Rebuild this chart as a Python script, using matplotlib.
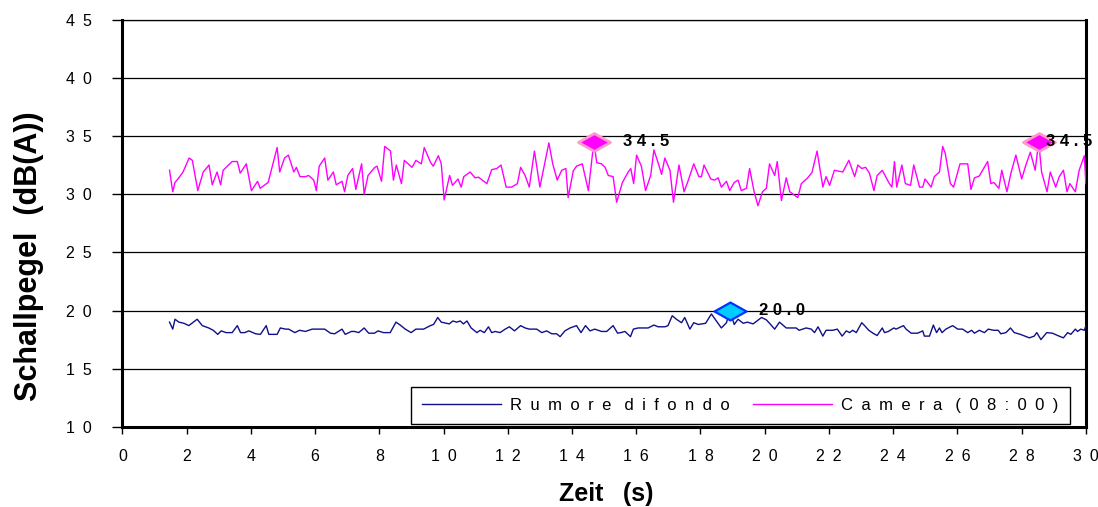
import matplotlib
matplotlib.use("Agg")
import matplotlib.pyplot as plt
from matplotlib.path import Path

# ---------------- data ----------------
camera_t = [
    1.47, 1.57, 1.64, 1.76, 1.89, 2.08, 2.18, 2.35, 2.52, 2.70,
    2.80, 2.95, 3.06, 3.14, 3.42, 3.58, 3.67, 3.86, 4.02, 4.21,
    4.29, 4.54, 4.82, 4.90, 5.05, 5.17, 5.34, 5.42, 5.53, 5.70,
    5.80, 5.96, 6.04, 6.13, 6.30, 6.40, 6.57, 6.66, 6.84, 6.92,
    7.02, 7.17, 7.27, 7.45, 7.53, 7.65, 7.86, 7.93, 8.07, 8.17,
    8.35, 8.44, 8.53, 8.69, 8.78, 9.02, 9.14, 9.31, 9.40, 9.60,
    9.68, 9.84, 9.93, 10.02, 10.19, 10.28, 10.45, 10.55, 10.63, 10.83,
    10.98, 11.09, 11.21, 11.35, 11.50, 11.66, 11.79, 11.95, 12.12, 12.30,
    12.40, 12.54, 12.67, 12.83, 13.00, 13.28, 13.40, 13.54, 13.68, 13.81,
    13.88, 14.04, 14.14, 14.32, 14.51, 14.68, 14.77, 14.92, 15.03, 15.13,
    15.28, 15.39, 15.57, 15.75, 15.83, 15.92, 16.01, 16.16, 16.29, 16.45,
    16.55, 16.68, 16.79, 16.89, 17.05, 17.16, 17.33, 17.49, 17.61, 17.79,
    17.95, 18.03, 18.11, 18.32, 18.44, 18.55, 18.65, 18.81, 18.91, 19.05,
    19.17, 19.27, 19.43, 19.53, 19.67, 19.79, 19.93, 20.05, 20.15, 20.31,
    20.39, 20.52,
    20.67, 20.78, 20.88, 21.03, 21.14, 21.34, 21.47, 21.63, 21.81, 21.91,
    22.02, 22.17, 22.43, 22.62, 22.80, 22.90, 23.02, 23.14, 23.26, 23.40,
    23.50, 23.66, 23.86, 23.96, 24.04, 24.11, 24.27, 24.38, 24.54, 24.64,
    24.82, 24.92, 24.99, 25.18, 25.28, 25.44, 25.54, 25.62, 25.78, 25.88,
    26.08, 26.32, 26.42, 26.53, 26.68, 26.94, 27.04, 27.13, 27.29, 27.38,
    27.54, 27.67, 27.82, 28.00, 28.13, 28.27, 28.42, 28.53, 28.62, 28.79,
    28.89, 29.06, 29.17, 29.30, 29.41, 29.50, 29.67, 29.79, 29.95, 30.00,
]
camera_db = [
    32.05, 30.2, 31.0, 31.4, 31.9, 33.1, 32.9, 30.3, 31.9, 32.5,
    30.8, 31.9, 30.8, 32.05, 32.8, 32.8, 31.8, 32.6, 30.3, 31.1,
    30.5, 31.0, 34.0, 31.9, 33.1, 33.35, 31.9, 32.3, 31.5, 31.5,
    31.6, 31.2, 30.3, 32.4, 33.1, 31.2, 31.9, 30.8, 31.1, 30.2,
    31.6, 32.2, 30.4, 32.6, 30.0, 31.6, 32.3, 32.4, 31.1, 34.1,
    33.7, 31.2, 32.5, 30.9, 32.9, 32.3, 32.9, 32.6, 34.0, 32.7,
    32.4, 33.3, 32.6, 29.5, 31.6, 30.75, 31.3, 30.6, 31.5, 31.9,
    31.4, 31.45, 31.2, 30.9, 32.1, 32.2, 32.5, 30.6, 30.6, 30.9,
    32.3, 31.6, 30.6, 33.7, 30.6, 34.4, 32.6, 31.2, 32.05, 32.2,
    29.7, 32.0, 32.4, 32.6, 30.3, 34.5, 32.7, 32.6, 32.3, 31.6,
    31.5, 29.3, 31.0, 31.9, 32.2, 30.9, 33.35, 32.4, 30.3, 31.6,
    33.8, 32.7, 31.7, 33.1, 32.05, 29.3, 32.5, 30.2, 31.1, 32.6,
    31.5, 31.5, 32.5, 31.3, 31.2, 31.4, 30.6, 31.1, 30.3, 31.0,
    31.2, 30.3, 30.5, 32.2, 30.2, 29.0, 30.2, 30.5, 32.6, 31.6,
    32.8, 29.45,
    31.4, 30.2, 30.0, 29.7, 30.9, 31.4, 31.85, 33.7, 30.6, 31.5,
    30.75, 32.05, 31.9, 32.9, 31.5, 32.5, 32.2, 32.3, 31.8, 30.3,
    31.6, 32.05, 31.0, 30.6, 32.8, 30.6, 32.5, 30.9, 30.75, 32.5,
    30.6, 30.6, 31.3, 30.6, 31.5, 31.9, 34.1, 33.5, 30.9, 30.6,
    32.6, 32.6, 30.4, 31.4, 31.55, 32.8, 30.9, 31.0, 30.5, 32.05,
    30.2, 31.85, 33.35, 31.3, 32.5, 33.6, 32.05, 34.5, 31.9, 30.2,
    31.9, 30.6, 31.5, 32.05, 30.2, 30.9, 30.2, 32.05, 33.3, 30.9,
]

noise_t = [
    1.47, 1.57, 1.64, 1.76, 1.92, 2.07, 2.33, 2.49, 2.69, 2.83,
    2.97, 3.08, 3.23, 3.42, 3.58, 3.68, 3.81, 3.94, 4.15, 4.30,
    4.48, 4.56, 4.82, 4.92, 5.08, 5.18, 5.37, 5.52, 5.70, 5.91,
    6.11, 6.30, 6.48, 6.61, 6.84, 6.94, 7.13, 7.23, 7.36, 7.53,
    7.67, 7.85, 7.96, 8.13, 8.34, 8.52, 8.65, 8.81, 8.99, 9.14,
    9.38, 9.59, 9.69, 9.82, 9.93, 10.18, 10.29, 10.41, 10.52, 10.62,
    10.73, 10.86,
    11.04, 11.14, 11.27, 11.40, 11.50, 11.61, 11.76, 11.92, 12.05, 12.21,
    12.40, 12.54, 12.67, 12.90, 13.06, 13.21, 13.37, 13.52, 13.63, 13.78,
    13.94, 14.14, 14.28, 14.42, 14.56, 14.71, 14.92, 15.08, 15.28, 15.42,
    15.52, 15.65, 15.82, 15.91, 16.06, 16.22, 16.37, 16.55, 16.68, 16.89,
    16.99, 17.12, 17.25, 17.41, 17.51, 17.67, 17.79, 17.93, 18.16, 18.34,
    18.65, 18.81, 18.91, 19.05, 19.17, 19.33, 19.46, 19.64, 19.90, 20.05,
    20.15, 20.31, 20.46,
    20.67, 20.98, 21.07, 21.29, 21.45, 21.55, 21.66, 21.81, 21.91, 22.12,
    22.26, 22.41, 22.54, 22.64, 22.74, 22.85, 23.02, 23.11, 23.24, 23.37,
    23.50, 23.66, 23.73, 23.85, 24.02, 24.09, 24.32, 24.40, 24.56, 24.76,
    24.92, 24.97, 25.13, 25.25, 25.35, 25.44, 25.52, 25.64, 25.85, 26.01,
    26.16, 26.32, 26.44, 26.53, 26.68, 26.84, 26.96, 27.13, 27.27, 27.35,
    27.51, 27.65, 27.77, 27.96, 28.24, 28.39, 28.47, 28.60, 28.78, 28.96,
    29.12, 29.30, 29.43, 29.53, 29.67, 29.74, 29.84, 29.95, 30.00,
]
noise_db = [
    19.0, 18.4, 19.25, 19.0, 18.9, 18.7, 19.25, 18.7, 18.5, 18.3,
    17.95, 18.25, 18.1, 18.1, 18.7, 18.1, 18.1, 18.25, 18.0, 17.95,
    18.7, 17.95, 17.95, 18.5, 18.4, 18.4, 18.1, 18.3, 18.2, 18.4,
    18.4, 18.4, 18.05, 18.0, 18.4, 17.95, 18.2, 18.2, 18.1, 18.5,
    18.05, 18.05, 18.25, 18.1, 18.1, 19.0, 18.75, 18.4, 18.1, 18.4,
    18.4, 18.7, 18.8, 19.4, 19.0, 18.85, 19.1, 19.0, 19.1, 18.85,
    19.1, 18.5,
    18.1, 18.3, 18.1, 18.6, 18.1, 18.2, 18.1, 18.4, 18.6, 18.25,
    18.7, 18.5, 18.4, 18.4, 18.1, 18.25, 18.0, 18.0, 17.75, 18.25,
    18.5, 18.7, 18.1, 18.7, 18.25, 18.4, 18.2, 18.2, 18.7, 18.05,
    18.1, 18.2, 17.75, 18.4, 18.5, 18.5, 18.5, 18.75, 18.6, 18.6,
    18.7, 19.55, 19.25, 18.95, 19.4, 18.4, 18.95, 18.8, 18.9, 19.7,
    18.5, 18.95, 20.0, 18.8, 19.25, 18.9, 19.0, 18.85, 19.4, 19.2,
    18.9, 18.4, 19.0,
    18.5, 18.5, 18.3, 18.5, 18.4, 18.1, 18.6, 17.8, 18.3, 18.3,
    18.4, 17.8, 18.25, 18.1, 18.3, 18.1, 18.95, 18.7, 18.3, 18.05,
    17.85, 18.5, 18.1, 18.2, 18.5, 18.4, 18.7, 18.4, 18.05, 18.05,
    18.25, 17.8, 17.8, 18.75, 18.1, 18.5, 18.1, 18.4, 18.7, 18.4,
    18.4, 18.1, 18.3, 18.05, 18.3, 18.1, 18.4, 18.3, 18.3, 18.0,
    18.1, 18.5, 18.1, 17.95, 17.65, 17.8, 18.1, 17.5, 18.1, 18.05,
    17.85, 17.65, 18.1, 17.95, 18.4, 18.2, 18.4, 18.3, 18.7,
]

SP = "\u2002"  # letter spacing as in the reference rendering
series_names = [SP.join("Rumore") + SP + " " + SP.join("difondo"),
                SP.join("Camera") + SP + " " + SP.join("(08:00)")]

# highlighted maxima
camera_peak_t = [14.68, 28.53]
camera_peak_db = [34.5, 34.5]
camera_peak_lbl = ["3 4 . 5", "3 4 . 5"]
noise_peak_t = [18.91]
noise_peak_db = [20.0]
noise_peak_lbl = ["2 0 . 0"]

x_ticks = list(range(0, 31, 2))
x_tick_labels = [SP.join(str(v)) for v in x_ticks]
y_ticks = [10, 15, 20, 25, 30, 35, 40, 45]
y_tick_labels = [SP.join(str(v)) for v in y_ticks]

x_label = "Zeit" + SP + " " + "(s)"
y_label = "Schallpegel  (dB(A))"

# ---------------- drawing ----------------
plt.rcParams["font.family"] = ["Liberation Sans", "DejaVu Sans"]

fig = plt.figure(figsize=(10.98, 5.07), dpi=100)
ax = fig.add_axes([0.1114, 0.158, 0.8776, 0.8035])

ax.set_xlim(0, 30)
ax.set_ylim(10, 45)

for y in y_ticks[1:]:
    ax.axhline(y, color="black", lw=0.9, zorder=1)

ax.plot(noise_t, noise_db, color="#10108a", lw=1.0, label=series_names[0], zorder=3)
ax.plot(camera_t, camera_db, color="#ff00ff", lw=1.0, label=series_names[1], zorder=3)

diamond = Path([(-1.0, 0.0), (0.0, 0.56), (1.0, 0.0), (0.0, -0.56), (-1.0, 0.0)],
               [Path.MOVETO, Path.LINETO, Path.LINETO, Path.LINETO, Path.CLOSEPOLY])

ax.plot(camera_peak_t, camera_peak_db, linestyle="none", marker=diamond, markersize=23,
        markerfacecolor="#ff00ff", markeredgecolor="#ff99cc", markeredgewidth=2.0,
        zorder=5, clip_on=False)
ax.plot(noise_peak_t, noise_peak_db, linestyle="none", marker=diamond, markersize=23,
        markerfacecolor="#00ccff", markeredgecolor="#0033ff", markeredgewidth=1.6,
        zorder=5, clip_on=False)

label_offsets_pt = [21, 5, 21]
for t, v, s, off in zip(camera_peak_t + noise_peak_t, camera_peak_db + noise_peak_db,
                        camera_peak_lbl + noise_peak_lbl, label_offsets_pt):
    ax.annotate(s, (t, v), xytext=(off, 0), textcoords="offset points",
                ha="left", va="center", fontsize=12, fontweight="bold",
                color="black", zorder=6, annotation_clip=False)

ax.set_xticks(x_ticks)
ax.set_xticklabels(x_tick_labels, fontsize=11.5)
ax.set_yticks(y_ticks)
ax.set_yticklabels(y_tick_labels, fontsize=11.5)
ax.tick_params(axis="y", direction="out", length=7, width=1, pad=15, colors="black")
ax.tick_params(axis="x", direction="out", length=5, width=1, pad=11, colors="black")

for side in ["left", "bottom", "right"]:
    ax.spines[side].set_linewidth(2.2)
    ax.spines[side].set_color("black")
ax.spines["top"].set_linewidth(0.9)

fig.text(606 / 1098, 1 - 494 / 507, x_label, ha="center", va="center",
         fontsize=18, fontweight="bold")
fig.text(29 / 1098, 1 - 256 / 507, y_label, ha="center", va="center",
         rotation=90, fontsize=22, fontweight="bold")

leg = ax.legend(loc="lower right", bbox_to_anchor=(0.983, 0.0074), borderaxespad=0,
                ncol=2, fontsize=12, handlelength=4.75, columnspacing=1.4,
                handletextpad=0.55, frameon=True, fancybox=False, framealpha=1,
                borderpad=0.65)
leg.get_frame().set_edgecolor("black")
leg.get_frame().set_linewidth(1.0)

fig.savefig("out.png", dpi=100, facecolor="white")
